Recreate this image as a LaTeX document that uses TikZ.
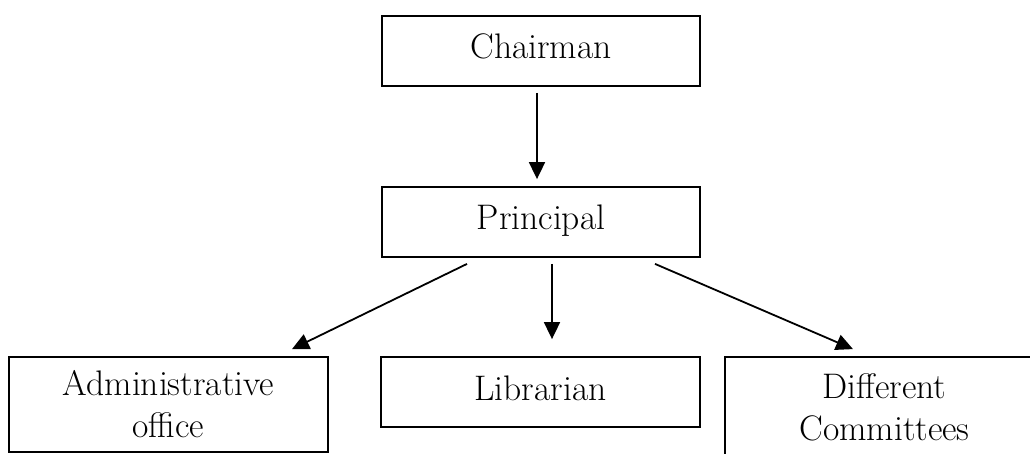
\documentclass[tikz,border=0pt]{standalone}
\usetikzlibrary{arrows.meta}
\begin{document}
\begin{tikzpicture}[x=1pt,y=-1pt,
  box/.style={draw=black,line width=1.8pt,rectangle,inner sep=0pt,
    font=\fontsize{35.5}{42}\selectfont,align=center},
  onel/.style={text height=24pt,text depth=8pt},
  arr/.style={line width=1.8pt,-{Triangle[length=17pt,width=16pt]}}]
\useasboundingbox (0,0) rectangle (1030,454);
\clip (0,0) rectangle (1030,454);
\node[box,onel,minimum width=318pt,minimum height=70pt] (chair) at (541,51) {Chairman};
\node[box,onel,minimum width=318pt,minimum height=70pt] (prin) at (541,222) {Principal};
\node[box,minimum width=319pt,minimum height=95pt] (admin) at (168.5,404.5) {Administrative\\office};
\node[box,onel,minimum width=319pt,minimum height=70pt] (lib) at (540.5,392) {Librarian};
\node[box,minimum width=319pt,minimum height=100pt] (comm) at (884.5,407) {Different\\Committees};
\draw[arr] ([shift={(-4pt,-6pt)}]chair.south) -- ([shift={(-4pt,7pt)}]prin.north);
\draw[arr] ([shift={(-74pt,-6pt)}]prin.south) -- ([shift={(123.5pt,7pt)}]admin.north);
\draw[arr] ([shift={(11pt,-6pt)}]prin.south) -- ([shift={(11.5pt,17pt)}]lib.north);
\draw[arr] ([shift={(114pt,-6pt)}]prin.south) -- ([shift={(-31.5pt,7pt)}]comm.north);
\end{tikzpicture}
\end{document}
